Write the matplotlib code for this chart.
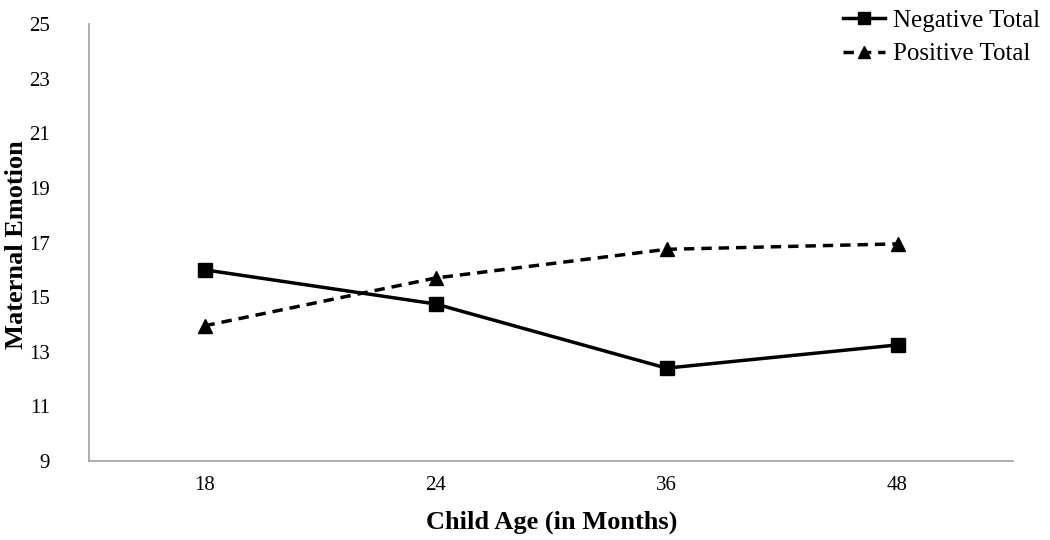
import matplotlib.pyplot as plt
from matplotlib.lines import Line2D

ages = ['18', '24', '36', '48']
negative_total = [16.0, 14.75, 12.4, 13.25]
positive_total = [13.95, 15.7, 16.75, 16.95]
y_ticks = [9, 11, 13, 15, 17, 19, 21, 23, 25]

plt.rcParams['font.family'] = ['Liberation Serif', 'DejaVu Serif']

fig = plt.figure(figsize=(10.5, 5.4), dpi=100)
ax = fig.add_axes([89 / 1050, 79 / 540, 924 / 1050, 437 / 540])

x = list(range(len(ages)))
ax.plot(x, negative_total, color='black', lw=2.5, marker='s', ms=10, label='Negative Total')
ax.plot(x, positive_total, color='black', lw=2.5, ls=(0, (3, 2)), marker='^', ms=10,
        label='Positive Total')

ax.set_xlim(-0.5, 3.5)
ax.set_ylim(9, 25)
ax.set_xticks(x)
ax.set_xticklabels(ages)
ax.set_yticks(y_ticks)
ax.tick_params(length=0, labelsize=15)
ax.tick_params(axis='x', pad=11)
ax.tick_params(axis='y', pad=28)
for s in ['top', 'right']:
    ax.spines[s].set_visible(False)
for s in ['left', 'bottom']:
    ax.spines[s].set_color('#a0a0a0')
    ax.spines[s].set_linewidth(1.2)

ax.set_xlabel('Child Age (in Months)', fontsize=19, fontweight='bold')
ax.set_ylabel('Maternal Emotion', fontsize=19, fontweight='bold')
ax.xaxis.set_label_coords(0.501, -0.14)
ax.yaxis.set_label_coords(-0.078, 0.494)
ax.xaxis.label.set_va('center')
ax.yaxis.label.set_va('center')

handles = [Line2D([], [], color='black', lw=2.5, marker='s', ms=9),
           Line2D([], [], color='black', lw=2.5, ls=(0, (3, 2)), marker='^', ms=9)]
fig.legend(handles, ['Negative Total', 'Positive Total'], loc='upper right',
           bbox_to_anchor=(1.012, 1.025), frameon=False, fontsize=18, handlelength=1.7,
           handletextpad=0.3, labelspacing=0.45)

fig.savefig('out.png', dpi=100)
